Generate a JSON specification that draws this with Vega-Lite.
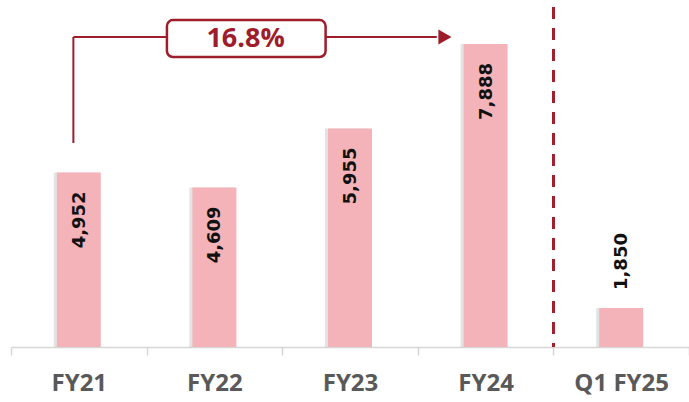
{
  "$schema": "https://vega.github.io/schema/vega-lite/v6.json",
  "width": 678,
  "height": 347,
  "autosize": {"type": "none"},
  "padding": {"left": 11, "top": 0, "right": 0, "bottom": 55},
  "background": "white",
  "config": {"view": {"stroke": null}},
  "datasets": {
    "bars": [
      {"cat": "FY21", "v": 4952},
      {"cat": "FY22", "v": 4609},
      {"cat": "FY23", "v": 5955},
      {"cat": "FY24", "v": 7888},
      {"cat": "Q1 FY25", "v": 1850}
    ]
  },
  "resolve": {"scale": {"x": "independent"}},
  "layer": [
    {
      "data": {"name": "bars"},
      "layer": [
        {
          "mark": {"type": "bar", "size": 44, "color": "#b7bcbc", "opacity": 0.4, "xOffset": -3},
          "encoding": {
            "x": {"field": "cat", "type": "nominal", "sort": null, "scale": {"paddingInner": 0, "paddingOuter": 0},
              "axis": {"title": null, "labelAngle": 0, "domainColor": "#d6d6d6", "domainWidth": 1.5, "tickColor": "#d6d6d6", "tickWidth": 1.5, "tickSize": 8, "tickBand": "extent", "labelFont": "Open Sans", "labelFontWeight": "bold", "labelFontSize": 24, "labelColor": "#595959", "labelPadding": 16}},
            "y": {"field": "v", "type": "quantitative", "scale": {"domain": [958, 8895]}, "axis": null},
            "y2": {"datum": 958}
          }
        },
        {
          "mark": {"type": "bar", "size": 44, "color": "#f4b3b8"},
          "encoding": {
            "x": {"field": "cat", "type": "nominal", "sort": null},
            "y": {"field": "v", "type": "quantitative", "scale": {"domain": [958, 8895]}},
            "y2": {"datum": 958}
          }
        },
        {
          "transform": [{"filter": "datum.cat != 'Q1 FY25'"}],
          "mark": {"type": "text", "angle": 270, "align": "right", "baseline": "middle", "dx": -19, "dy": 1, "font": "DejaVu Sans", "fontWeight": "bold", "fontSize": 18, "color": "#111111"},
          "encoding": {
            "x": {"field": "cat", "type": "nominal", "sort": null},
            "y": {"field": "v", "type": "quantitative", "scale": {"domain": [958, 8895]}},
            "text": {"field": "v", "type": "quantitative", "format": ","}
          }
        },
        {
          "transform": [{"filter": "datum.cat == 'Q1 FY25'"}],
          "mark": {"type": "text", "angle": 270, "align": "left", "baseline": "middle", "dx": 18, "dy": 1, "font": "DejaVu Sans", "fontWeight": "bold", "fontSize": 18, "color": "#111111"},
          "encoding": {
            "x": {"field": "cat", "type": "nominal", "sort": null},
            "y": {"field": "v", "type": "quantitative", "scale": {"domain": [958, 8895]}},
            "text": {"field": "v", "type": "quantitative", "format": ","}
          }
        },
        {
          "mark": {"type": "rule", "color": "#a31f2d", "strokeWidth": 2.5, "strokeDash": [12, 9]},
          "encoding": {
            "x": {"datum": "Q1 FY25", "type": "nominal", "bandPosition": 0},
            "y": {"datum": 8735, "type": "quantitative", "scale": {"domain": [958, 8895]}},
            "y2": {"datum": 958}
          }
        }
      ]
    },
    {
      "layer": [
        {
          "data": {"values": [{"x": 0.46, "y": 5624, "y2": 8049}]},
          "mark": {"type": "rule", "color": "#9e1c2b", "strokeWidth": 2},
          "encoding": {
            "x": {"field": "x", "type": "quantitative", "scale": {"domain": [0, 5], "nice": false, "zero": false}, "axis": null},
            "y": {"field": "y", "type": "quantitative", "scale": {"domain": [958, 8895]}},
            "y2": {"field": "y2"}
          }
        },
        {
          "data": {"values": [{"x": 0.46, "x2": 3.14, "y": 8049}]},
          "mark": {"type": "rule", "color": "#9e1c2b", "strokeWidth": 2},
          "encoding": {
            "x": {"field": "x", "type": "quantitative", "scale": {"domain": [0, 5], "nice": false, "zero": false}, "axis": null},
            "x2": {"field": "x2"},
            "y": {"field": "y", "type": "quantitative", "scale": {"domain": [958, 8895]}}
          }
        },
        {
          "data": {"values": [{"x": 3.2, "y": 8049}]},
          "mark": {"type": "point", "shape": "triangle-right", "filled": true, "size": 230, "color": "#9e1c2b", "opacity": 1},
          "encoding": {
            "x": {"field": "x", "type": "quantitative", "scale": {"domain": [0, 5], "nice": false, "zero": false}, "axis": null},
            "y": {"field": "y", "type": "quantitative", "scale": {"domain": [958, 8895]}}
          }
        },
        {
          "data": {"values": [{"x": 1.15, "x2": 2.32, "y": 8437, "y2": 7591}]},
          "mark": {"type": "rect", "fill": "white", "stroke": "#9e1c2b", "strokeWidth": 2.5, "cornerRadius": 6},
          "encoding": {
            "x": {"field": "x", "type": "quantitative", "scale": {"domain": [0, 5], "nice": false, "zero": false}, "axis": null},
            "x2": {"field": "x2"},
            "y": {"field": "y", "type": "quantitative", "scale": {"domain": [958, 8895]}},
            "y2": {"field": "y2"}
          }
        },
        {
          "data": {"values": [{"x": 1.73, "y": 8003, "label": "16.8%"}]},
          "mark": {"type": "text", "align": "center", "baseline": "middle", "font": "Open Sans", "fontWeight": "bold", "fontSize": 27, "color": "#9e1c2b"},
          "encoding": {
            "x": {"field": "x", "type": "quantitative", "scale": {"domain": [0, 5], "nice": false, "zero": false}, "axis": null},
            "y": {"field": "y", "type": "quantitative", "scale": {"domain": [958, 8895]}},
            "text": {"field": "label"}
          }
        }
      ]
    }
  ]
}
